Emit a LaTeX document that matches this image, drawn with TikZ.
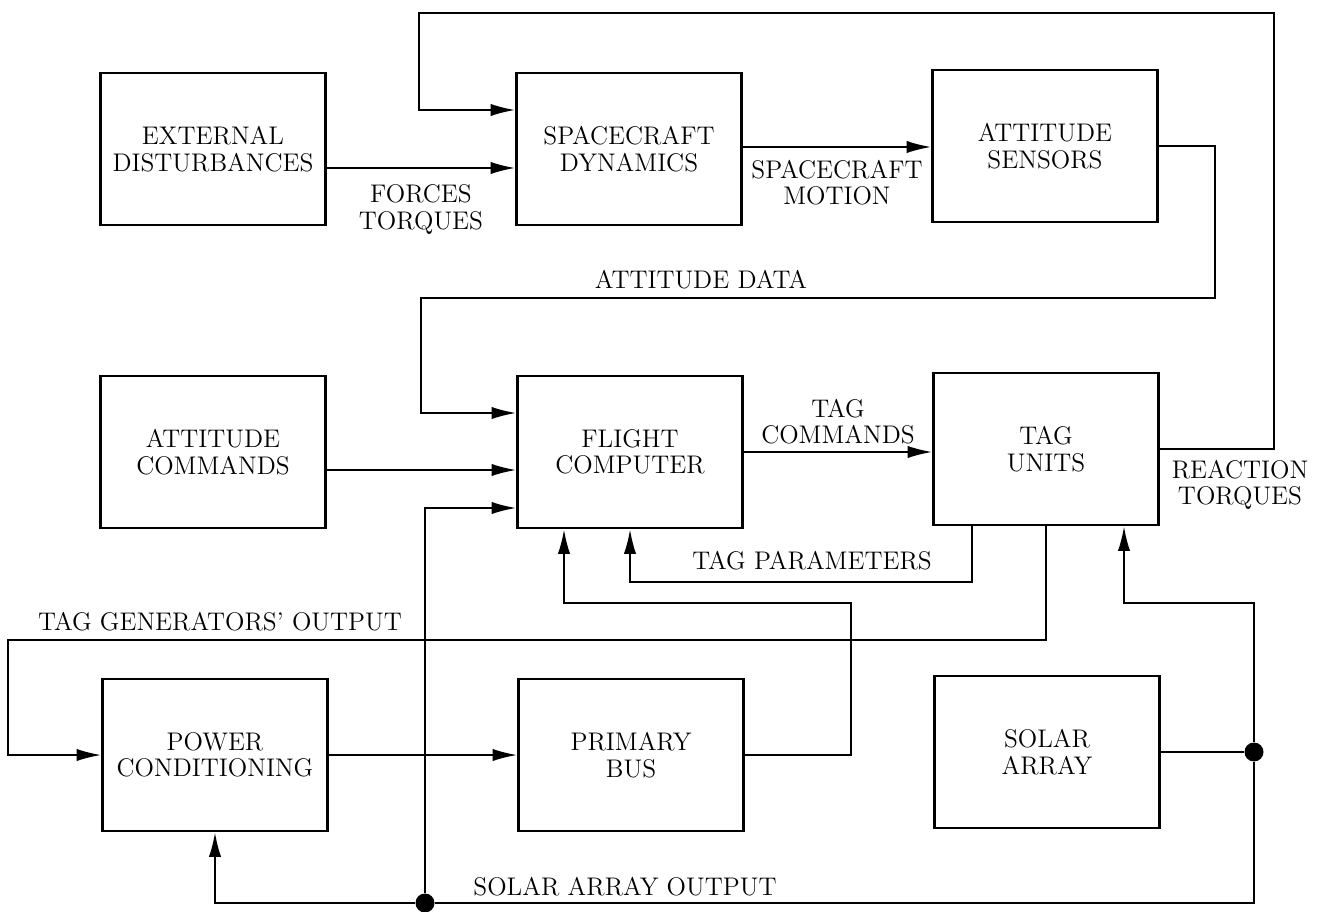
\documentclass[tikz,border=0pt]{standalone}
\usepackage{tikz}
\usetikzlibrary{arrows.meta, positioning, calc}
\tikzset{
    block/.style={rectangle, draw=black, align=center,
        minimum width=4.5cm, minimum height=3.04cm,
        line width=1.5pt, inner sep=2pt,
        font=\fontsize{14.5}{15}\selectfont},
    arr/.style={-{Latex[length=14pt, width=7pt]}, line width=1.1pt},
    wire/.style={line width=1.1pt},
    lbl/.style={font=\fontsize{14.5}{15}\selectfont, align=center,
        inner sep=1pt},
    junc/.style={circle, fill=black, inner sep=0pt, minimum size=0.38cm},
}

\begin{document}
\begin{tikzpicture}[x=0.02cm, y=-0.02cm]

\useasboundingbox (0,0) rectangle (1326,912);

% ================================================================
%  BLOCKS
% ================================================================

\node[block] (ext)  at (213, 149)  {EXTERNAL\\DISTURBANCES};
\node[block] (scd)  at (629, 149)  {SPACECRAFT\\DYNAMICS};
\node[block] (sens) at (1045, 146) {ATTITUDE\\SENSORS};

\node[block] (acmd) at (213, 452)  {ATTITUDE\\COMMANDS};
\node[block] (fc)   at (630, 452)  {FLIGHT\\COMPUTER};
\node[block] (tag)  at (1046, 449) {TAG\\UNITS};

\node[block] (pc)   at (215, 755)  {POWER\\CONDITIONING};
\node[block] (pb)   at (631, 755)  {PRIMARY\\BUS};
\node[block] (sa)   at (1047, 752) {SOLAR\\ARRAY};

\node[junc] (jsa)  at (1254, 752) {};
\node[junc] (jbot) at (425, 903)  {};

% ================================================================
%  FORWARD PATH
% ================================================================

\draw[arr] ($(ext.east)+(0,19)$) --
    node[lbl, below=8pt] {FORCES\\TORQUES}
    ($(scd.west)+(0,19)$);
\draw[arr] ($(scd.east)+(0,-2)$) --
    node[lbl, below=6pt] {SPACECRAFT\\MOTION}
    ($(sens.west)+(0,1)$);
\draw[arr] ($(acmd.east)+(0,18)$) -- ($(fc.west)+(0,18)$);
\draw[arr] (fc) --
    node[lbl, above=3pt] {TAG\\COMMANDS}
    ($(tag.west)+(0,3)$);
\draw[arr] (pc) -- (pb);

% ================================================================
%  FEEDBACK LOOPS
% ================================================================

% attitude data back to the computer
\draw[arr] (sens.east) -- ++(56,0) |- (421,298)
    |- ($(fc.west)+(0,-39)$);
\node[lbl] (adlbl) at (701, 280) {ATTITUDE DATA};

% reaction torques back to the dynamics
\draw[arr] (tag.east) -- ++(114,0) |- (419,13)
    |- ($(scd.west)+(0,-39)$);
\node[lbl] (rtlbl) at (1240, 485) {REACTION\\TORQUES};

% TAG parameters
\draw[arr] ($(tag.south)+(-74,0)$) |- (630,582) -- (fc.south);
\node[lbl] (tplbl) at (812, 561) {TAG PARAMETERS};

% primary bus to the computer
\draw[arr] (pb.east) -- ++(106,0) |- (564,603)
    -- ($(fc.south)+(-66,0)$);

% TAG generators' output to power conditioning
\draw[arr] (tag.south) |- (8,640) |- (pc.west);
\node[lbl] (tglbl) at (220, 622) {TAG GENERATORS' OUTPUT};

% ================================================================
%  SOLAR ARRAY OUTPUT
% ================================================================

\draw[wire] (sa.east) -- (jsa);
\draw[arr] (jsa) |- ($(tag.south)+(78,77)$) -- ($(tag.south)+(78,0)$);
\draw[wire] (jsa) |- (jbot);
\draw[arr] (jbot) -| (pc.south);
\draw[arr] (jbot) |- ($(fc.west)+(0,56)$);
\node[lbl] (salbl) at (625, 887) {SOLAR ARRAY OUTPUT};

\end{tikzpicture}
\end{document}
